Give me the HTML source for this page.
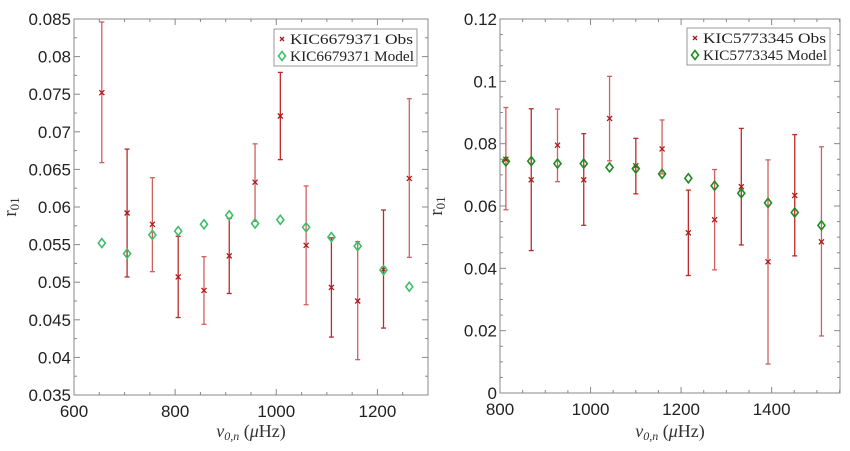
<!DOCTYPE html>
<html><head><meta charset="utf-8"><style>
body{margin:0;background:#fff;width:850px;height:451px;overflow:hidden}
svg{display:block}
text{font-family:"Liberation Sans",sans-serif}
.serif{font-family:"Liberation Serif",serif}
</style></head><body>
<svg id="chart" width="850" height="451"></svg>
<script>
// Left panel data
const leftFreq=[655,705,755,806,857,907,958,1008,1059,1109,1161,1212,1263];
const leftObs=[0.0752,0.0592,0.0577,0.0507,0.0489,0.0535,0.0633,0.0721,0.0549,0.0493,0.0475,0.0517,0.0638];
const leftHi=[0.0846,0.0677,0.0639,0.0561,0.0534,0.0585,0.0684,0.0779,0.0628,0.0559,0.0554,0.0596,0.0744];
const leftLo=[0.0659,0.0507,0.0514,0.0453,0.0444,0.0485,0.0581,0.0663,0.0470,0.0427,0.0397,0.0439,0.0533];
const leftModel=[0.0552,0.0538,0.0563,0.0568,0.0577,0.0589,0.0578,0.0583,0.0573,0.0560,0.0548,0.0516,0.0494];
const leftXTicks=[600,800,1000,1200];
const leftYTicks=["0.035","0.04","0.045","0.05","0.055","0.06","0.065","0.07","0.075","0.08","0.085"];
// Right panel data
const rightFreq=[813,869,927,985,1042,1100,1158,1216,1274,1333,1392,1451,1510];
const rightObs=[0.0750,0.0684,0.0795,0.0684,0.0881,0.0729,0.0783,0.0514,0.0556,0.0662,0.0421,0.0634,0.0485];
const rightHi=[0.0916,0.0912,0.0911,0.0832,0.1016,0.0817,0.0876,0.0651,0.0717,0.0849,0.0748,0.0829,0.0790];
const rightLo=[0.0588,0.0457,0.0678,0.0538,0.0745,0.0639,0.0703,0.0377,0.0395,0.0475,0.0093,0.0440,0.0183];
const rightModel=[0.0743,0.0744,0.0736,0.0736,0.0724,0.0720,0.0703,0.0689,0.0665,0.0641,0.0610,0.0579,0.0538];
const rightXTicks=[800,1000,1200,1400];
const rightYTicks=["0","0.02","0.04","0.06","0.08","0.1","0.12"];

const NS="http://www.w3.org/2000/svg";
const svg=document.getElementById('chart');
function mk(tag,attrs,parent,txt){const e=document.createElementNS(NS,tag);for(const k in attrs)e.setAttribute(k,attrs[k]);if(txt!==undefined)e.textContent=txt;(parent||svg).appendChild(e);return e;}

function panel(o){
  const g=mk('g',{});
  
  
  const sx=v=>o.x0+(v-o.xmin)/(o.xmax-o.xmin)*(o.x1-o.x0);
  const sy=v=>o.y1-(v-o.ymin)/(o.ymax-o.ymin)*(o.y1-o.y0);
  const box=mk('rect',{x:o.x0,y:o.y0,width:o.x1-o.x0,height:o.y1-o.y0,fill:'none',stroke:'#888','stroke-width':1},g);
  
  
  for(let v=o.xmin;v<=o.xmax+1e-9;v+=o.xminor){const X=sx(v);const big=Math.abs(v/o.xmajor-Math.round(v/o.xmajor))<1e-6;const L=big?6:3;
    mk('line',{x1:X,x2:X,y1:o.y1,y2:o.y1-L,stroke:'#888'},g);mk('line',{x1:X,x2:X,y1:o.y0,y2:o.y0+L,stroke:'#888'},g);}
  for(let v=o.ymin;v<=o.ymax+1e-12;v+=o.yminor){const Y=sy(v);const big=Math.abs(v/o.ymajor-Math.round(v/o.ymajor))<1e-6;const L=big?6:3;
    mk('line',{x1:o.x0,x2:o.x0+L,y1:Y,y2:Y,stroke:'#888'},g);mk('line',{x1:o.x1,x2:o.x1-L,y1:Y,y2:Y,stroke:'#888'},g);}
  o.xt.forEach(v=>{const t=mk('text',{x:sx(v),y:o.y1+22,'text-anchor':'middle','font-size':17,fill:'#222'},g,String(v));
    });
  o.yt.forEach(s=>{const t=mk('text',{x:o.x0-3,y:sy(parseFloat(s))+6,'text-anchor':'end','font-size':17,fill:'#222'},g,s);
    });
  const xl=mk('text',{x:(o.x0+o.x1)/2,y:437,'text-anchor':'middle','font-size':18,fill:'#333',class:'serif','font-style':'italic'},g);
  xl.innerHTML='ν<tspan font-size="12" dy="3">0,n</tspan><tspan dy="-3" font-style="normal">  (</tspan>μ<tspan font-style="normal">Hz)</tspan>';
  
  const yl=mk('text',{transform:`translate(${o.x0-58},${(o.y0+o.y1)/2}) rotate(-90)`,'text-anchor':'middle','font-size':19,fill:'#333',class:'serif'},g);
  yl.innerHTML='r<tspan font-size="13" dy="3">01</tspan>';
  
  o.f.forEach((f,i)=>{const X=sx(f);
    const eb=mk('g',{stroke:i%2?'#c0282a':'#d06060','stroke-width':1.3},g);
    
    mk('line',{x1:X,x2:X,y1:sy(o.hi[i]),y2:sy(o.lo[i])},eb);
    mk('line',{x1:X-2.5,x2:X+2.5,y1:sy(o.hi[i]),y2:sy(o.hi[i])},eb);
    mk('line',{x1:X-2.5,x2:X+2.5,y1:sy(o.lo[i]),y2:sy(o.lo[i])},eb);
    const Y=sy(o.obs[i]);
    const m=mk('path',{d:`M${X-2.5},${Y-2.5}L${X+2.5},${Y+2.5}M${X-2.5},${Y+2.5}L${X+2.5},${Y-2.5}`,stroke:'#b01818','stroke-width':1.3},g);
    
    const Ym=sy(o.model[i]);
    const d=mk('path',{d:`M${X},${Ym-4.5}L${X+3.5},${Ym}L${X},${Ym+4.5}L${X-3.5},${Ym}Z`,fill:'none',stroke:o.green,'stroke-width':1.6},g);
    
  });
  const lg=mk('g',{},g);
  
  mk('rect',{x:o.lx,y:o.ly,width:143,height:37,fill:'#fff',stroke:'#999'},lg);
  const cx=o.lx+8,c1=o.ly+10,c2=o.ly+27;
  mk('path',{d:`M${cx-2},${c1-2}L${cx+2},${c1+2}M${cx-2},${c1+2}L${cx+2},${c1-2}`,stroke:'#b01818','stroke-width':1.3},lg);
  mk('path',{d:`M${cx},${c2-4.5}L${cx+3.5},${c2}L${cx},${c2+4.5}L${cx-3.5},${c2}Z`,fill:'none',stroke:o.green,'stroke-width':1.6},lg);
  const t1=mk('text',{x:o.lx+16,y:c1+5,'font-size':15,class:'serif',fill:'#222',textLength:123,lengthAdjust:'spacingAndGlyphs'},lg,o.star+' Obs');
  
  const t2=mk('text',{x:o.lx+16,y:c2+5,'font-size':15,class:'serif',fill:'#222',textLength:124,lengthAdjust:'spacingAndGlyphs'},lg,o.star+' Model');
  
}
panel({name:'left-panel',x0:74,x1:428,y0:19,y1:395,xmin:600,xmax:1300,ymin:0.035,ymax:0.085,xminor:50,xmajor:200,yminor:0.0025,ymajor:0.005,
  xt:leftXTicks,yt:leftYTicks,f:leftFreq,obs:leftObs,hi:leftHi,lo:leftLo,model:leftModel,green:'#3cbf6a',lx:274,ly:29,star:'KIC6679371'});
panel({name:'right-panel',x0:500,x1:840,y0:19,y1:393,xmin:800,xmax:1551,ymin:0,ymax:0.12,xminor:50,xmajor:200,yminor:0.005,ymajor:0.02,
  xt:rightXTicks,yt:rightYTicks,f:rightFreq,obs:rightObs,hi:rightHi,lo:rightLo,model:rightModel,green:'#1f8c1f',lx:687,ly:28,star:'KIC5773345'});
</script>
</body></html>
